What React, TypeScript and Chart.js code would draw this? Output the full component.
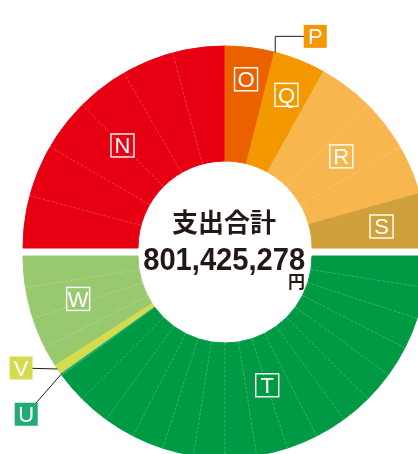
import React, { useEffect, useRef } from 'react';
import { Chart, registerables } from 'chart.js';

Chart.register(...registerables);

// ---- data ----
const topLabels = ['N', 'O', 'P', 'Q', 'R', 'S'];
const topValues = [50.0, 7.9, 0.2, 8.1, 25.1, 8.7];
const topColors = ['#E60012', '#EB6100', '#F39800', '#F39800', '#F8B64F', '#CFA03C'];

const bottomLabels = ['T', 'U', 'V', 'W'];
const bottomValues = [79.9, 0.4, 1.6, 18.1];
const bottomColors = ['#009A44', '#20AC74', '#D4DC4E', '#99C96E'];

const titleText = '支出合計';
const totalText = '801,425,278';
const unitText = '円';

// ---- style / layout ----
const TOP_GRID_DEG = 15;
const BOTTOM_GRID_DEG = 9;
const HALF_GAP = 4;
const OUTER_R = 202;
const INNER_R = 87;
const TEXT_COLOR = '#231815';

const inLabelRadius: Record<string, number> = { N: 145, O: 170, Q: 165, R: 148, S: 158, T: 136, W: 153 };
const extLabels: Record<string, { dx: number; dy: number; elbow?: boolean }> = {
  P: { dx: 40, dy: -16, elbow: true },
  V: { dx: -36.5, dy: -1 },
  U: { dx: -35, dy: 40 },
};

const allLabels = [...topLabels, ...bottomLabels];
const allValues = [...topValues, ...bottomValues];
const allColors = [...topColors, ...bottomColors];
const nTop = topLabels.length;

const splitPlugin = {
  id: 'splitHalves',
  beforeDatasetsDraw(chart: any) {
    const ctx = chart.ctx as CanvasRenderingContext2D;
    const arcs = chart.getDatasetMeta(0).data as any[];
    arcs.forEach((arc, i) => {
      ctx.save();
      ctx.translate(0, i < nTop ? -HALF_GAP : HALF_GAP);
      arc.draw(ctx);
      ctx.restore();
    });
    const drawGrid = (from: number, to: number, stepDeg: number, dy: number) => {
      const a0 = arcs[from];
      const start = a0.startAngle;
      const end = arcs[to - 1].endAngle;
      const bounds: number[] = [];
      for (let i = from; i < to; i++) bounds.push(arcs[i].endAngle);
      const step = (stepDeg * Math.PI) / 180;
      const tol = (1.5 * Math.PI) / 180;
      ctx.save();
      ctx.strokeStyle = 'rgba(255,255,255,0.32)';
      ctx.lineWidth = 0.7;
      ctx.setLineDash([3, 1.5]);
      const cx = a0.x;
      const cy = a0.y + dy;
      for (let k = 1; start + k * step < end - 1e-6; k++) {
        const a = start + k * step;
        if (bounds.some((b) => Math.abs(b - a) < tol)) continue;
        ctx.beginPath();
        ctx.moveTo(cx + Math.cos(a) * a0.innerRadius, cy + Math.sin(a) * a0.innerRadius);
        ctx.lineTo(cx + Math.cos(a) * a0.outerRadius, cy + Math.sin(a) * a0.outerRadius);
        ctx.stroke();
      }
      ctx.restore();
    };
    drawGrid(0, nTop, TOP_GRID_DEG, -HALF_GAP);
    drawGrid(nTop, arcs.length, BOTTOM_GRID_DEG, HALF_GAP);
    return false;
  },
  afterDraw(chart: any) {
    const ctx = chart.ctx as CanvasRenderingContext2D;
    const arcs = chart.getDatasetMeta(0).data as any[];
    const letterFont = '22px "Liberation Sans", Arial, sans-serif';
    arcs.forEach((arc, i) => {
      const lab = allLabels[i];
      const dy = i < nTop ? -HALF_GAP : HALF_GAP;
      const mid = (arc.startAngle + arc.endAngle) / 2;
      const cx = arc.x;
      const cy = arc.y + dy;
      ctx.save();
      if (inLabelRadius[lab] !== undefined) {
        const r = inLabelRadius[lab];
        const x = cx + Math.cos(mid) * r;
        const y = cy + Math.sin(mid) * r;
        ctx.strokeStyle = '#ffffff';
        ctx.lineWidth = 1.4;
        ctx.strokeRect(x - 11.5, y - 11.5, 23, 23);
        ctx.fillStyle = '#ffffff';
        ctx.font = letterFont;
        ctx.textAlign = 'center';
        ctx.textBaseline = 'alphabetic';
        ctx.fillText(lab, x, y + 8);
      } else if (extLabels[lab]) {
        const e = extLabels[lab];
        const ax = cx + Math.cos(mid) * arc.outerRadius;
        const ay = cy + Math.sin(mid) * arc.outerRadius;
        const bx = ax + e.dx;
        const by = ay + e.dy;
        ctx.strokeStyle = TEXT_COLOR;
        ctx.lineWidth = 1;
        ctx.beginPath();
        if (e.elbow) {
          ctx.moveTo(bx, by);
          ctx.lineTo(ax, by);
          ctx.lineTo(ax, ay);
        } else {
          ctx.moveTo(bx, by);
          ctx.lineTo(ax, ay);
        }
        ctx.stroke();
        ctx.fillStyle = allColors[i];
        ctx.fillRect(bx - 11.5, by - 11.5, 23, 23);
        ctx.fillStyle = '#ffffff';
        ctx.font = letterFont;
        ctx.textAlign = 'center';
        ctx.textBaseline = 'alphabetic';
        ctx.fillText(lab, bx, by + 8);
      }
      ctx.restore();
    });

    // centre text
    const c = arcs[0];
    const cx0 = c.x;
    const cy0 = c.y;
    ctx.save();
    ctx.fillStyle = TEXT_COLOR;
    ctx.textAlign = 'center';
    ctx.textBaseline = 'middle';
    ctx.font = 'bold 26px "Noto Sans CJK JP", sans-serif';
    ctx.fillText(titleText, cx0 - 1, cy0 - 29.5);
    ctx.textBaseline = 'alphabetic';
    ctx.font = 'bold 31px "Liberation Sans", Arial, sans-serif';
    ctx.fillText(totalText, cx0 - 0.8, cy0 + 17.5, 162);
    ctx.textAlign = 'right';
    ctx.textBaseline = 'middle';
    ctx.font = 'bold 17px "Noto Sans CJK JP", sans-serif';
    ctx.fillText(unitText, cx0 + 80, cy0 + 29.3);
    ctx.restore();
  },
};

export default function App() {
  const ref = useRef<HTMLCanvasElement>(null);
  useEffect(() => {
    const chart = new Chart(ref.current as HTMLCanvasElement, {
      type: 'doughnut',
      data: {
        labels: allLabels,
        datasets: [
          {
            data: allValues,
            backgroundColor: allColors,
            borderColor: allColors,
            borderWidth: 1,
          },
        ],
      },
      options: {
        responsive: false,
        animation: false,
        events: [],
        rotation: -90,
        circumference: 360,
        radius: OUTER_R,
        cutout: `${(INNER_R / OUTER_R) * 100}%`,
        layout: { padding: 0 },
        plugins: {
          legend: { display: false },
          tooltip: { enabled: false },
        },
      } as any,
      plugins: [splitPlugin as any],
    });
    return () => chart.destroy();
  }, []);
  return (
    <div
      style={{
        position: 'fixed',
        left: 0,
        top: 0,
        width: 418,
        height: 454,
        overflow: 'hidden',
        background: '#ffffff',
      }}
    >
      <canvas
        ref={ref}
        width={460}
        height={460}
        style={{ position: 'absolute', left: -5, top: 22, width: 460, height: 460 }}
      />
    </div>
  );
}
